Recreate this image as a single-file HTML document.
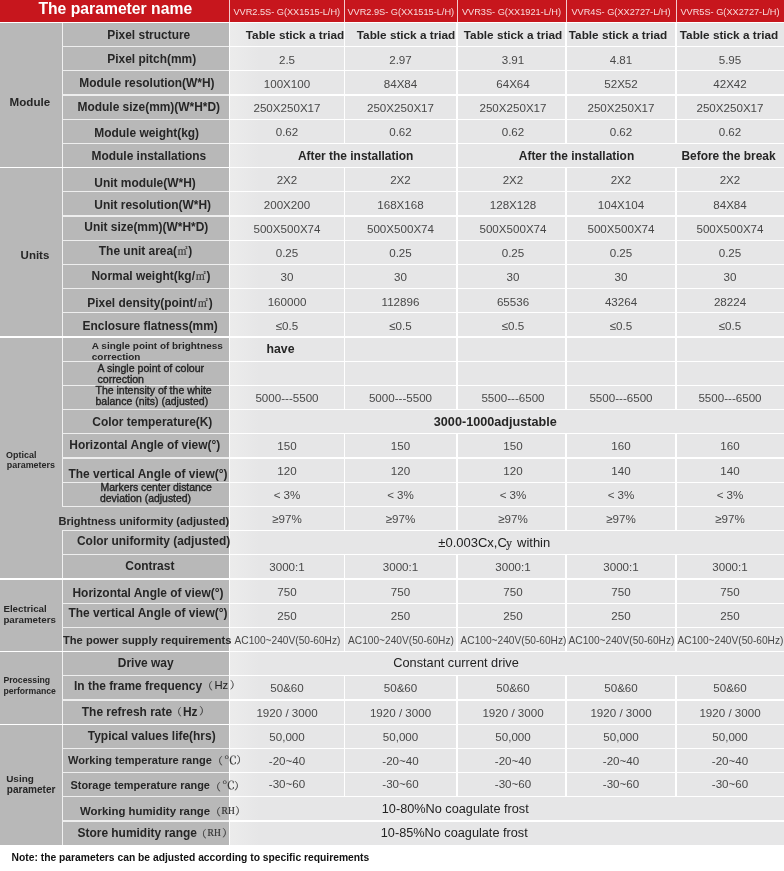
<!DOCTYPE html>
<html><head><meta charset="utf-8"><title>Parameters</title><style>
html,body{margin:0;padding:0;background:#fff}
#p{position:relative;width:784px;height:871px;overflow:hidden;background:#fff;font-family:"Liberation Sans",sans-serif}
#p div{position:absolute}
#p span{position:absolute;white-space:nowrap;line-height:1;color:#262626}
.b{font-weight:bold}
.r{font-weight:normal}
.c{width:300px;text-align:center}
#p .w{color:#fff}
#p .h{color:#f8dcdc}
#p .d{color:#484848}
#p .k{color:#222}
#p .k2{color:#222;-webkit-text-stroke:0.35px #222}
#p .n{color:#111}
#p .s{font-family:"Liberation Serif","Noto Serif CJK SC",serif;font-weight:normal;color:#333;-webkit-text-stroke:0.2px #333}
</style></head><body><div id="p">
<div style="left:0.00px;top:0.00px;width:784.00px;height:22.00px;background:#c7161d;"></div>
<div style="left:0.00px;top:22.00px;width:229.00px;height:823.00px;background:#b8b8b8;"></div>
<div style="left:229.00px;top:22.00px;width:555.00px;height:823.00px;background:linear-gradient(90deg,#ececec 0,#e6e6e7 30px);"></div>
<div style="left:228.60px;top:22.00px;width:1.20px;height:823.00px;background:#fff;"></div>
<div style="left:61.80px;top:22.00px;width:1.30px;height:823.00px;background:#f0f0f0;"></div>
<div style="left:228.50px;top:0.00px;width:1.00px;height:22.00px;background:#f3c9cb;"></div>
<div style="left:344.00px;top:0.00px;width:1.00px;height:22.00px;background:#f3c9cb;"></div>
<div style="left:456.50px;top:0.00px;width:1.00px;height:22.00px;background:#f3c9cb;"></div>
<div style="left:565.50px;top:0.00px;width:1.00px;height:22.00px;background:#f3c9cb;"></div>
<div style="left:675.50px;top:0.00px;width:1.00px;height:22.00px;background:#f3c9cb;"></div>
<div style="left:0.00px;top:21.70px;width:784.00px;height:1.40px;background:#fff;"></div>
<div style="left:62.00px;top:45.90px;width:167.00px;height:1.40px;background:#eee;"></div>
<div style="left:229.00px;top:45.90px;width:555.00px;height:1.40px;background:#fff;"></div>
<div style="left:62.00px;top:70.10px;width:167.00px;height:1.40px;background:#eee;"></div>
<div style="left:229.00px;top:70.10px;width:555.00px;height:1.40px;background:#fff;"></div>
<div style="left:62.00px;top:94.30px;width:167.00px;height:1.40px;background:#eee;"></div>
<div style="left:229.00px;top:94.30px;width:555.00px;height:1.40px;background:#fff;"></div>
<div style="left:62.00px;top:118.50px;width:167.00px;height:1.40px;background:#eee;"></div>
<div style="left:229.00px;top:118.50px;width:555.00px;height:1.40px;background:#fff;"></div>
<div style="left:62.00px;top:142.70px;width:167.00px;height:1.40px;background:#eee;"></div>
<div style="left:229.00px;top:142.70px;width:555.00px;height:1.40px;background:#fff;"></div>
<div style="left:0.00px;top:166.90px;width:784.00px;height:1.40px;background:#fff;"></div>
<div style="left:62.00px;top:191.10px;width:167.00px;height:1.40px;background:#eee;"></div>
<div style="left:229.00px;top:191.10px;width:555.00px;height:1.40px;background:#fff;"></div>
<div style="left:62.00px;top:215.30px;width:167.00px;height:1.40px;background:#eee;"></div>
<div style="left:229.00px;top:215.30px;width:555.00px;height:1.40px;background:#fff;"></div>
<div style="left:62.00px;top:239.50px;width:167.00px;height:1.40px;background:#eee;"></div>
<div style="left:229.00px;top:239.50px;width:555.00px;height:1.40px;background:#fff;"></div>
<div style="left:62.00px;top:263.70px;width:167.00px;height:1.40px;background:#eee;"></div>
<div style="left:229.00px;top:263.70px;width:555.00px;height:1.40px;background:#fff;"></div>
<div style="left:62.00px;top:287.90px;width:167.00px;height:1.40px;background:#eee;"></div>
<div style="left:229.00px;top:287.90px;width:555.00px;height:1.40px;background:#fff;"></div>
<div style="left:62.00px;top:312.10px;width:167.00px;height:1.40px;background:#eee;"></div>
<div style="left:229.00px;top:312.10px;width:555.00px;height:1.40px;background:#fff;"></div>
<div style="left:0.00px;top:336.30px;width:784.00px;height:1.40px;background:#fff;"></div>
<div style="left:62.00px;top:360.50px;width:167.00px;height:1.40px;background:#eee;"></div>
<div style="left:229.00px;top:360.50px;width:555.00px;height:1.40px;background:#fff;"></div>
<div style="left:62.00px;top:384.70px;width:167.00px;height:1.40px;background:#eee;"></div>
<div style="left:229.00px;top:384.70px;width:555.00px;height:1.40px;background:#fff;"></div>
<div style="left:62.00px;top:408.90px;width:167.00px;height:1.40px;background:#eee;"></div>
<div style="left:229.00px;top:408.90px;width:555.00px;height:1.40px;background:#fff;"></div>
<div style="left:62.00px;top:433.10px;width:167.00px;height:1.40px;background:#eee;"></div>
<div style="left:229.00px;top:433.10px;width:555.00px;height:1.40px;background:#fff;"></div>
<div style="left:62.00px;top:457.30px;width:167.00px;height:1.40px;background:#eee;"></div>
<div style="left:229.00px;top:457.30px;width:555.00px;height:1.40px;background:#fff;"></div>
<div style="left:62.00px;top:481.50px;width:167.00px;height:1.40px;background:#eee;"></div>
<div style="left:229.00px;top:481.50px;width:555.00px;height:1.40px;background:#fff;"></div>
<div style="left:62.00px;top:505.70px;width:167.00px;height:1.40px;background:#eee;"></div>
<div style="left:229.00px;top:505.70px;width:555.00px;height:1.40px;background:#fff;"></div>
<div style="left:62.00px;top:529.90px;width:167.00px;height:1.40px;background:#eee;"></div>
<div style="left:229.00px;top:529.90px;width:555.00px;height:1.40px;background:#fff;"></div>
<div style="left:62.00px;top:554.10px;width:167.00px;height:1.40px;background:#eee;"></div>
<div style="left:229.00px;top:554.10px;width:555.00px;height:1.40px;background:#fff;"></div>
<div style="left:0.00px;top:578.30px;width:784.00px;height:1.40px;background:#fff;"></div>
<div style="left:62.00px;top:602.50px;width:167.00px;height:1.40px;background:#eee;"></div>
<div style="left:229.00px;top:602.50px;width:555.00px;height:1.40px;background:#fff;"></div>
<div style="left:62.00px;top:626.70px;width:167.00px;height:1.40px;background:#eee;"></div>
<div style="left:229.00px;top:626.70px;width:555.00px;height:1.40px;background:#fff;"></div>
<div style="left:0.00px;top:650.90px;width:784.00px;height:1.40px;background:#fff;"></div>
<div style="left:62.00px;top:675.10px;width:167.00px;height:1.40px;background:#eee;"></div>
<div style="left:229.00px;top:675.10px;width:555.00px;height:1.40px;background:#fff;"></div>
<div style="left:62.00px;top:699.30px;width:167.00px;height:1.40px;background:#eee;"></div>
<div style="left:229.00px;top:699.30px;width:555.00px;height:1.40px;background:#fff;"></div>
<div style="left:0.00px;top:723.50px;width:784.00px;height:1.40px;background:#fff;"></div>
<div style="left:62.00px;top:747.70px;width:167.00px;height:1.40px;background:#eee;"></div>
<div style="left:229.00px;top:747.70px;width:555.00px;height:1.40px;background:#fff;"></div>
<div style="left:62.00px;top:771.90px;width:167.00px;height:1.40px;background:#eee;"></div>
<div style="left:229.00px;top:771.90px;width:555.00px;height:1.40px;background:#fff;"></div>
<div style="left:62.00px;top:796.10px;width:167.00px;height:1.40px;background:#eee;"></div>
<div style="left:229.00px;top:796.10px;width:555.00px;height:1.40px;background:#fff;"></div>
<div style="left:62.00px;top:820.30px;width:167.00px;height:1.40px;background:#eee;"></div>
<div style="left:229.00px;top:820.30px;width:555.00px;height:1.40px;background:#fff;"></div>
<div style="left:0.00px;top:844.50px;width:784.00px;height:1.40px;background:#fff;"></div>
<div style="left:343.90px;top:22.40px;width:1.20px;height:24.20px;background:#fff;"></div>
<div style="left:456.40px;top:22.40px;width:1.20px;height:24.20px;background:#fff;"></div>
<div style="left:565.40px;top:22.40px;width:1.20px;height:24.20px;background:#fff;"></div>
<div style="left:675.40px;top:22.40px;width:1.20px;height:24.20px;background:#fff;"></div>
<div style="left:343.90px;top:46.60px;width:1.20px;height:24.20px;background:#fff;"></div>
<div style="left:456.40px;top:46.60px;width:1.20px;height:24.20px;background:#fff;"></div>
<div style="left:565.40px;top:46.60px;width:1.20px;height:24.20px;background:#fff;"></div>
<div style="left:675.40px;top:46.60px;width:1.20px;height:24.20px;background:#fff;"></div>
<div style="left:343.90px;top:70.80px;width:1.20px;height:24.20px;background:#fff;"></div>
<div style="left:456.40px;top:70.80px;width:1.20px;height:24.20px;background:#fff;"></div>
<div style="left:565.40px;top:70.80px;width:1.20px;height:24.20px;background:#fff;"></div>
<div style="left:675.40px;top:70.80px;width:1.20px;height:24.20px;background:#fff;"></div>
<div style="left:343.90px;top:95.00px;width:1.20px;height:24.20px;background:#fff;"></div>
<div style="left:456.40px;top:95.00px;width:1.20px;height:24.20px;background:#fff;"></div>
<div style="left:565.40px;top:95.00px;width:1.20px;height:24.20px;background:#fff;"></div>
<div style="left:675.40px;top:95.00px;width:1.20px;height:24.20px;background:#fff;"></div>
<div style="left:343.90px;top:119.20px;width:1.20px;height:24.20px;background:#fff;"></div>
<div style="left:456.40px;top:119.20px;width:1.20px;height:24.20px;background:#fff;"></div>
<div style="left:565.40px;top:119.20px;width:1.20px;height:24.20px;background:#fff;"></div>
<div style="left:675.40px;top:119.20px;width:1.20px;height:24.20px;background:#fff;"></div>
<div style="left:456.40px;top:143.40px;width:1.20px;height:24.20px;background:#fff;"></div>
<div style="left:343.90px;top:167.60px;width:1.20px;height:24.20px;background:#fff;"></div>
<div style="left:456.40px;top:167.60px;width:1.20px;height:24.20px;background:#fff;"></div>
<div style="left:565.40px;top:167.60px;width:1.20px;height:24.20px;background:#fff;"></div>
<div style="left:675.40px;top:167.60px;width:1.20px;height:24.20px;background:#fff;"></div>
<div style="left:343.90px;top:191.80px;width:1.20px;height:24.20px;background:#fff;"></div>
<div style="left:456.40px;top:191.80px;width:1.20px;height:24.20px;background:#fff;"></div>
<div style="left:565.40px;top:191.80px;width:1.20px;height:24.20px;background:#fff;"></div>
<div style="left:675.40px;top:191.80px;width:1.20px;height:24.20px;background:#fff;"></div>
<div style="left:343.90px;top:216.00px;width:1.20px;height:24.20px;background:#fff;"></div>
<div style="left:456.40px;top:216.00px;width:1.20px;height:24.20px;background:#fff;"></div>
<div style="left:565.40px;top:216.00px;width:1.20px;height:24.20px;background:#fff;"></div>
<div style="left:675.40px;top:216.00px;width:1.20px;height:24.20px;background:#fff;"></div>
<div style="left:343.90px;top:240.20px;width:1.20px;height:24.20px;background:#fff;"></div>
<div style="left:456.40px;top:240.20px;width:1.20px;height:24.20px;background:#fff;"></div>
<div style="left:565.40px;top:240.20px;width:1.20px;height:24.20px;background:#fff;"></div>
<div style="left:675.40px;top:240.20px;width:1.20px;height:24.20px;background:#fff;"></div>
<div style="left:343.90px;top:264.40px;width:1.20px;height:24.20px;background:#fff;"></div>
<div style="left:456.40px;top:264.40px;width:1.20px;height:24.20px;background:#fff;"></div>
<div style="left:565.40px;top:264.40px;width:1.20px;height:24.20px;background:#fff;"></div>
<div style="left:675.40px;top:264.40px;width:1.20px;height:24.20px;background:#fff;"></div>
<div style="left:343.90px;top:288.60px;width:1.20px;height:24.20px;background:#fff;"></div>
<div style="left:456.40px;top:288.60px;width:1.20px;height:24.20px;background:#fff;"></div>
<div style="left:565.40px;top:288.60px;width:1.20px;height:24.20px;background:#fff;"></div>
<div style="left:675.40px;top:288.60px;width:1.20px;height:24.20px;background:#fff;"></div>
<div style="left:343.90px;top:312.80px;width:1.20px;height:24.20px;background:#fff;"></div>
<div style="left:456.40px;top:312.80px;width:1.20px;height:24.20px;background:#fff;"></div>
<div style="left:565.40px;top:312.80px;width:1.20px;height:24.20px;background:#fff;"></div>
<div style="left:675.40px;top:312.80px;width:1.20px;height:24.20px;background:#fff;"></div>
<div style="left:343.90px;top:337.00px;width:1.20px;height:24.20px;background:#fff;"></div>
<div style="left:456.40px;top:337.00px;width:1.20px;height:24.20px;background:#fff;"></div>
<div style="left:565.40px;top:337.00px;width:1.20px;height:24.20px;background:#fff;"></div>
<div style="left:675.40px;top:337.00px;width:1.20px;height:24.20px;background:#fff;"></div>
<div style="left:343.90px;top:361.20px;width:1.20px;height:24.20px;background:#fff;"></div>
<div style="left:456.40px;top:361.20px;width:1.20px;height:24.20px;background:#fff;"></div>
<div style="left:565.40px;top:361.20px;width:1.20px;height:24.20px;background:#fff;"></div>
<div style="left:675.40px;top:361.20px;width:1.20px;height:24.20px;background:#fff;"></div>
<div style="left:343.90px;top:385.40px;width:1.20px;height:24.20px;background:#fff;"></div>
<div style="left:456.40px;top:385.40px;width:1.20px;height:24.20px;background:#fff;"></div>
<div style="left:565.40px;top:385.40px;width:1.20px;height:24.20px;background:#fff;"></div>
<div style="left:675.40px;top:385.40px;width:1.20px;height:24.20px;background:#fff;"></div>
<div style="left:343.90px;top:433.80px;width:1.20px;height:24.20px;background:#fff;"></div>
<div style="left:456.40px;top:433.80px;width:1.20px;height:24.20px;background:#fff;"></div>
<div style="left:565.40px;top:433.80px;width:1.20px;height:24.20px;background:#fff;"></div>
<div style="left:675.40px;top:433.80px;width:1.20px;height:24.20px;background:#fff;"></div>
<div style="left:343.90px;top:458.00px;width:1.20px;height:24.20px;background:#fff;"></div>
<div style="left:456.40px;top:458.00px;width:1.20px;height:24.20px;background:#fff;"></div>
<div style="left:565.40px;top:458.00px;width:1.20px;height:24.20px;background:#fff;"></div>
<div style="left:675.40px;top:458.00px;width:1.20px;height:24.20px;background:#fff;"></div>
<div style="left:343.90px;top:482.20px;width:1.20px;height:24.20px;background:#fff;"></div>
<div style="left:456.40px;top:482.20px;width:1.20px;height:24.20px;background:#fff;"></div>
<div style="left:565.40px;top:482.20px;width:1.20px;height:24.20px;background:#fff;"></div>
<div style="left:675.40px;top:482.20px;width:1.20px;height:24.20px;background:#fff;"></div>
<div style="left:343.90px;top:506.40px;width:1.20px;height:24.20px;background:#fff;"></div>
<div style="left:456.40px;top:506.40px;width:1.20px;height:24.20px;background:#fff;"></div>
<div style="left:565.40px;top:506.40px;width:1.20px;height:24.20px;background:#fff;"></div>
<div style="left:675.40px;top:506.40px;width:1.20px;height:24.20px;background:#fff;"></div>
<div style="left:343.90px;top:554.80px;width:1.20px;height:24.20px;background:#fff;"></div>
<div style="left:456.40px;top:554.80px;width:1.20px;height:24.20px;background:#fff;"></div>
<div style="left:565.40px;top:554.80px;width:1.20px;height:24.20px;background:#fff;"></div>
<div style="left:675.40px;top:554.80px;width:1.20px;height:24.20px;background:#fff;"></div>
<div style="left:343.90px;top:579.00px;width:1.20px;height:24.20px;background:#fff;"></div>
<div style="left:456.40px;top:579.00px;width:1.20px;height:24.20px;background:#fff;"></div>
<div style="left:565.40px;top:579.00px;width:1.20px;height:24.20px;background:#fff;"></div>
<div style="left:675.40px;top:579.00px;width:1.20px;height:24.20px;background:#fff;"></div>
<div style="left:343.90px;top:603.20px;width:1.20px;height:24.20px;background:#fff;"></div>
<div style="left:456.40px;top:603.20px;width:1.20px;height:24.20px;background:#fff;"></div>
<div style="left:565.40px;top:603.20px;width:1.20px;height:24.20px;background:#fff;"></div>
<div style="left:675.40px;top:603.20px;width:1.20px;height:24.20px;background:#fff;"></div>
<div style="left:343.90px;top:627.40px;width:1.20px;height:24.20px;background:#fff;"></div>
<div style="left:456.40px;top:627.40px;width:1.20px;height:24.20px;background:#fff;"></div>
<div style="left:565.40px;top:627.40px;width:1.20px;height:24.20px;background:#fff;"></div>
<div style="left:675.40px;top:627.40px;width:1.20px;height:24.20px;background:#fff;"></div>
<div style="left:343.90px;top:675.80px;width:1.20px;height:24.20px;background:#fff;"></div>
<div style="left:456.40px;top:675.80px;width:1.20px;height:24.20px;background:#fff;"></div>
<div style="left:565.40px;top:675.80px;width:1.20px;height:24.20px;background:#fff;"></div>
<div style="left:675.40px;top:675.80px;width:1.20px;height:24.20px;background:#fff;"></div>
<div style="left:343.90px;top:700.00px;width:1.20px;height:24.20px;background:#fff;"></div>
<div style="left:456.40px;top:700.00px;width:1.20px;height:24.20px;background:#fff;"></div>
<div style="left:565.40px;top:700.00px;width:1.20px;height:24.20px;background:#fff;"></div>
<div style="left:675.40px;top:700.00px;width:1.20px;height:24.20px;background:#fff;"></div>
<div style="left:343.90px;top:724.20px;width:1.20px;height:24.20px;background:#fff;"></div>
<div style="left:456.40px;top:724.20px;width:1.20px;height:24.20px;background:#fff;"></div>
<div style="left:565.40px;top:724.20px;width:1.20px;height:24.20px;background:#fff;"></div>
<div style="left:675.40px;top:724.20px;width:1.20px;height:24.20px;background:#fff;"></div>
<div style="left:343.90px;top:748.40px;width:1.20px;height:24.20px;background:#fff;"></div>
<div style="left:456.40px;top:748.40px;width:1.20px;height:24.20px;background:#fff;"></div>
<div style="left:565.40px;top:748.40px;width:1.20px;height:24.20px;background:#fff;"></div>
<div style="left:675.40px;top:748.40px;width:1.20px;height:24.20px;background:#fff;"></div>
<div style="left:343.90px;top:772.60px;width:1.20px;height:24.20px;background:#fff;"></div>
<div style="left:456.40px;top:772.60px;width:1.20px;height:24.20px;background:#fff;"></div>
<div style="left:565.40px;top:772.60px;width:1.20px;height:24.20px;background:#fff;"></div>
<div style="left:675.40px;top:772.60px;width:1.20px;height:24.20px;background:#fff;"></div>
<div style="left:61.00px;top:507.10px;width:3.00px;height:22.80px;background:#b8b8b8;"></div>
<span class="b w" style="left:38.40px;top:1px;font-size:15.72px;">The parameter name</span>
<span class="r h c" style="left:136.75px;top:8px;font-size:9.2px;">VVR2.5S- G(XX1515-L/H)</span>
<span class="r h c" style="left:250.75px;top:8px;font-size:9.2px;">VVR2.9S- G(XX1515-L/H)</span>
<span class="r h c" style="left:361.50px;top:8px;font-size:9.2px;">VVR3S- G(XX1921-L/H)</span>
<span class="r h c" style="left:471.00px;top:8px;font-size:9.2px;">VVR4S- G(XX2727-L/H)</span>
<span class="r h c" style="left:580.00px;top:8px;font-size:9.2px;">VVR5S- G(XX2727-L/H)</span>
<span class="b" style="left:9.60px;top:96px;font-size:11.6px;">Module</span>
<span class="b" style="left:20.60px;top:250px;font-size:11.5px;">Units</span>
<span class="b" style="left:6.10px;top:451px;font-size:8.95px;">Optical</span>
<span class="b" style="left:6.80px;top:461px;font-size:8.95px;">parameters</span>
<span class="b" style="left:3.40px;top:604px;font-size:9.74px;">Electrical</span>
<span class="b" style="left:3.40px;top:615px;font-size:9.74px;">parameters</span>
<span class="b" style="left:3.40px;top:676px;font-size:8.68px;">Processing</span>
<span class="b" style="left:3.40px;top:687px;font-size:8.68px;">performance</span>
<span class="b" style="left:6.20px;top:774px;font-size:9.95px;">Using</span>
<span class="b" style="left:6.80px;top:785px;font-size:10.05px;">parameter</span>
<span class="b" style="left:107.30px;top:30px;font-size:11.95px;">Pixel structure</span>
<span class="b" style="left:107.30px;top:54px;font-size:11.95px;">Pixel pitch(mm)</span>
<span class="b" style="left:79.30px;top:78px;font-size:11.95px;">Module resolution(W*H)</span>
<span class="b" style="left:77.50px;top:102px;font-size:11.95px;">Module size(mm)(W*H*D)</span>
<span class="b" style="left:94.30px;top:128px;font-size:11.95px;">Module weight(kg)</span>
<span class="b" style="left:91.50px;top:151px;font-size:11.95px;">Module installations</span>
<span class="b" style="left:94.30px;top:178px;font-size:11.95px;">Unit module(W*H)</span>
<span class="b" style="left:94.30px;top:200px;font-size:11.95px;">Unit resolution(W*H)</span>
<span class="b" style="left:84.30px;top:222px;font-size:11.95px;">Unit size(mm)(W*H*D)</span>
<span class="b" style="left:82.50px;top:321px;font-size:11.95px;">Enclosure flatness(mm)</span>
<span class="b" style="left:92.30px;top:417px;font-size:11.95px;">Color temperature(K)</span>
<span class="b" style="left:69.30px;top:440px;font-size:11.95px;">Horizontal Angle of view(°)</span>
<span class="b" style="left:68.50px;top:469px;font-size:11.95px;">The vertical Angle of view(°)</span>
<span class="b" style="left:58.50px;top:516px;font-size:11.06px;">Brightness uniformity (adjusted)</span>
<span class="b" style="left:77.00px;top:536px;font-size:11.95px;">Color uniformity (adjusted)</span>
<span class="b" style="left:125.30px;top:561px;font-size:11.95px;">Contrast</span>
<span class="b" style="left:72.50px;top:588px;font-size:11.95px;">Horizontal Angle of view(°)</span>
<span class="b" style="left:68.50px;top:608px;font-size:11.95px;">The vertical Angle of view(°)</span>
<span class="b" style="left:63.00px;top:635px;font-size:11.15px;">The power supply requirements</span>
<span class="b" style="left:117.80px;top:658px;font-size:11.95px;">Drive way</span>
<span class="b" style="left:87.80px;top:731px;font-size:11.95px;">Typical values life(hrs)</span>
<span class="b" style="left:98.80px;top:246px;font-size:11.95px;">The unit area(</span>
<span class="s" style="left:177.40px;top:247px;font-size:10px;">㎡</span>
<span class="b" style="left:188.30px;top:246px;font-size:11.95px;">)</span>
<span class="b" style="left:91.50px;top:271px;font-size:11.95px;">Normal weight(kg/</span>
<span class="s" style="left:195.70px;top:272px;font-size:10px;">㎡</span>
<span class="b" style="left:206.40px;top:271px;font-size:11.95px;">)</span>
<span class="b" style="left:87.30px;top:298px;font-size:11.95px;">Pixel density(point/</span>
<span class="s" style="left:197.70px;top:299px;font-size:10px;">㎡</span>
<span class="b" style="left:208.70px;top:298px;font-size:11.95px;">)</span>
<span class="b" style="left:74.00px;top:681px;font-size:11.95px;">In the frame frequency</span>
<span class="s" style="left:202.80px;top:682px;font-size:10px;">（</span>
<span class="r k" style="left:214.40px;top:680px;font-size:11.3px;">Hz</span>
<span class="s" style="left:230.00px;top:681px;font-size:10px;">）</span>
<span class="b" style="left:81.80px;top:707px;font-size:11.95px;">The refresh rate</span>
<span class="s" style="left:171.80px;top:708px;font-size:10px;">（</span>
<span class="b" style="left:183.00px;top:707px;font-size:11.95px;">Hz</span>
<span class="s" style="left:199.20px;top:707px;font-size:10px;">）</span>
<span class="b" style="left:68.00px;top:755px;font-size:11.04px;">Working temperature range</span>
<span class="s" style="left:212.70px;top:757px;font-size:10px;">（</span>
<span class="s" style="left:224.10px;top:754px;font-size:12px;transform:scale(1.08,.88);transform-origin:0 50%;">℃</span>
<span class="s" style="left:236.50px;top:756px;font-size:10px;">）</span>
<span class="b" style="left:70.50px;top:780px;font-size:10.91px;">Storage temperature range</span>
<span class="s" style="left:210.70px;top:783px;font-size:10px;">（</span>
<span class="s" style="left:221.90px;top:779px;font-size:12px;transform:scale(1.08,.88);transform-origin:0 50%;">℃</span>
<span class="s" style="left:234.30px;top:782px;font-size:10px;">）</span>
<span class="b" style="left:80.00px;top:806px;font-size:11.4px;">Working humidity range</span>
<span class="s" style="left:210.80px;top:808px;font-size:10px;">（</span>
<span class="s" style="left:221.60px;top:807px;font-size:9.5px;">RH</span>
<span class="s" style="left:235.20px;top:807px;font-size:10px;">）</span>
<span class="b" style="left:77.50px;top:828px;font-size:11.95px;">Store humidity range</span>
<span class="s" style="left:196.40px;top:830px;font-size:10px;">（</span>
<span class="s" style="left:207.60px;top:829px;font-size:9.5px;">RH</span>
<span class="s" style="left:222.20px;top:829px;font-size:10px;">）</span>
<span class="b" style="left:91.80px;top:341px;font-size:9.95px;">A single point of brightness</span>
<span class="b" style="left:91.80px;top:352px;font-size:9.95px;">correction</span>
<span class="r k2" style="left:97.50px;top:363px;font-size:10.6px;">A single point of colour</span>
<span class="r k2" style="left:97.50px;top:374px;font-size:10.6px;">correction</span>
<span class="r k2" style="left:95.50px;top:385px;font-size:10.5px;">The intensity of the white</span>
<span class="r k2" style="left:95.50px;top:396px;font-size:10.5px;">balance (nits) (adjusted)</span>
<span class="r k2" style="left:100.50px;top:483px;font-size:10.45px;">Markers center distance</span>
<span class="r k2" style="left:100.00px;top:494px;font-size:10.45px;">deviation (adjusted)</span>
<span class="r d c" style="left:137.00px;top:54px;font-size:11.6px;">2.5</span>
<span class="r d c" style="left:250.50px;top:54px;font-size:11.6px;">2.97</span>
<span class="r d c" style="left:363.00px;top:54px;font-size:11.6px;">3.91</span>
<span class="r d c" style="left:471.00px;top:54px;font-size:11.6px;">4.81</span>
<span class="r d c" style="left:580.00px;top:54px;font-size:11.6px;">5.95</span>
<span class="r d c" style="left:137.00px;top:78px;font-size:11.6px;">100X100</span>
<span class="r d c" style="left:250.50px;top:78px;font-size:11.6px;">84X84</span>
<span class="r d c" style="left:363.00px;top:78px;font-size:11.6px;">64X64</span>
<span class="r d c" style="left:471.00px;top:78px;font-size:11.6px;">52X52</span>
<span class="r d c" style="left:580.00px;top:78px;font-size:11.6px;">42X42</span>
<span class="r d c" style="left:137.00px;top:102px;font-size:11.6px;">250X250X17</span>
<span class="r d c" style="left:250.50px;top:102px;font-size:11.6px;">250X250X17</span>
<span class="r d c" style="left:363.00px;top:102px;font-size:11.6px;">250X250X17</span>
<span class="r d c" style="left:471.00px;top:102px;font-size:11.6px;">250X250X17</span>
<span class="r d c" style="left:580.00px;top:102px;font-size:11.6px;">250X250X17</span>
<span class="r d c" style="left:137.00px;top:126px;font-size:11.6px;">0.62</span>
<span class="r d c" style="left:250.50px;top:126px;font-size:11.6px;">0.62</span>
<span class="r d c" style="left:363.00px;top:126px;font-size:11.6px;">0.62</span>
<span class="r d c" style="left:471.00px;top:126px;font-size:11.6px;">0.62</span>
<span class="r d c" style="left:580.00px;top:126px;font-size:11.6px;">0.62</span>
<span class="r d c" style="left:137.00px;top:174px;font-size:11.6px;">2X2</span>
<span class="r d c" style="left:250.50px;top:174px;font-size:11.6px;">2X2</span>
<span class="r d c" style="left:363.00px;top:174px;font-size:11.6px;">2X2</span>
<span class="r d c" style="left:471.00px;top:174px;font-size:11.6px;">2X2</span>
<span class="r d c" style="left:580.00px;top:174px;font-size:11.6px;">2X2</span>
<span class="r d c" style="left:137.00px;top:199px;font-size:11.6px;">200X200</span>
<span class="r d c" style="left:250.50px;top:199px;font-size:11.6px;">168X168</span>
<span class="r d c" style="left:363.00px;top:199px;font-size:11.6px;">128X128</span>
<span class="r d c" style="left:471.00px;top:199px;font-size:11.6px;">104X104</span>
<span class="r d c" style="left:580.00px;top:199px;font-size:11.6px;">84X84</span>
<span class="r d c" style="left:137.00px;top:223px;font-size:11.6px;">500X500X74</span>
<span class="r d c" style="left:250.50px;top:223px;font-size:11.6px;">500X500X74</span>
<span class="r d c" style="left:363.00px;top:223px;font-size:11.6px;">500X500X74</span>
<span class="r d c" style="left:471.00px;top:223px;font-size:11.6px;">500X500X74</span>
<span class="r d c" style="left:580.00px;top:223px;font-size:11.6px;">500X500X74</span>
<span class="r d c" style="left:137.00px;top:247px;font-size:11.6px;">0.25</span>
<span class="r d c" style="left:250.50px;top:247px;font-size:11.6px;">0.25</span>
<span class="r d c" style="left:363.00px;top:247px;font-size:11.6px;">0.25</span>
<span class="r d c" style="left:471.00px;top:247px;font-size:11.6px;">0.25</span>
<span class="r d c" style="left:580.00px;top:247px;font-size:11.6px;">0.25</span>
<span class="r d c" style="left:137.00px;top:271px;font-size:11.6px;">30</span>
<span class="r d c" style="left:250.50px;top:271px;font-size:11.6px;">30</span>
<span class="r d c" style="left:363.00px;top:271px;font-size:11.6px;">30</span>
<span class="r d c" style="left:471.00px;top:271px;font-size:11.6px;">30</span>
<span class="r d c" style="left:580.00px;top:271px;font-size:11.6px;">30</span>
<span class="r d c" style="left:137.00px;top:296px;font-size:11.6px;">160000</span>
<span class="r d c" style="left:250.50px;top:296px;font-size:11.6px;">112896</span>
<span class="r d c" style="left:363.00px;top:296px;font-size:11.6px;">65536</span>
<span class="r d c" style="left:471.00px;top:296px;font-size:11.6px;">43264</span>
<span class="r d c" style="left:580.00px;top:296px;font-size:11.6px;">28224</span>
<span class="r d c" style="left:137.00px;top:320px;font-size:11.6px;">≤0.5</span>
<span class="r d c" style="left:250.50px;top:320px;font-size:11.6px;">≤0.5</span>
<span class="r d c" style="left:363.00px;top:320px;font-size:11.6px;">≤0.5</span>
<span class="r d c" style="left:471.00px;top:320px;font-size:11.6px;">≤0.5</span>
<span class="r d c" style="left:580.00px;top:320px;font-size:11.6px;">≤0.5</span>
<span class="r d c" style="left:137.00px;top:392px;font-size:11.6px;">5000---5500</span>
<span class="r d c" style="left:250.50px;top:392px;font-size:11.6px;">5000---5500</span>
<span class="r d c" style="left:363.00px;top:392px;font-size:11.6px;">5500---6500</span>
<span class="r d c" style="left:471.00px;top:392px;font-size:11.6px;">5500---6500</span>
<span class="r d c" style="left:580.00px;top:392px;font-size:11.6px;">5500---6500</span>
<span class="r d c" style="left:137.00px;top:440px;font-size:11.6px;">150</span>
<span class="r d c" style="left:250.50px;top:440px;font-size:11.6px;">150</span>
<span class="r d c" style="left:363.00px;top:440px;font-size:11.6px;">150</span>
<span class="r d c" style="left:471.00px;top:440px;font-size:11.6px;">160</span>
<span class="r d c" style="left:580.00px;top:440px;font-size:11.6px;">160</span>
<span class="r d c" style="left:137.00px;top:465px;font-size:11.6px;">120</span>
<span class="r d c" style="left:250.50px;top:465px;font-size:11.6px;">120</span>
<span class="r d c" style="left:363.00px;top:465px;font-size:11.6px;">120</span>
<span class="r d c" style="left:471.00px;top:465px;font-size:11.6px;">140</span>
<span class="r d c" style="left:580.00px;top:465px;font-size:11.6px;">140</span>
<span class="r d c" style="left:137.00px;top:489px;font-size:11.6px;">&lt; 3%</span>
<span class="r d c" style="left:250.50px;top:489px;font-size:11.6px;">&lt; 3%</span>
<span class="r d c" style="left:363.00px;top:489px;font-size:11.6px;">&lt; 3%</span>
<span class="r d c" style="left:471.00px;top:489px;font-size:11.6px;">&lt; 3%</span>
<span class="r d c" style="left:580.00px;top:489px;font-size:11.6px;">&lt; 3%</span>
<span class="r d c" style="left:137.00px;top:513px;font-size:11.6px;">≥97%</span>
<span class="r d c" style="left:250.50px;top:513px;font-size:11.6px;">≥97%</span>
<span class="r d c" style="left:363.00px;top:513px;font-size:11.6px;">≥97%</span>
<span class="r d c" style="left:471.00px;top:513px;font-size:11.6px;">≥97%</span>
<span class="r d c" style="left:580.00px;top:513px;font-size:11.6px;">≥97%</span>
<span class="r d c" style="left:137.00px;top:561px;font-size:11.6px;">3000:1</span>
<span class="r d c" style="left:250.50px;top:561px;font-size:11.6px;">3000:1</span>
<span class="r d c" style="left:363.00px;top:561px;font-size:11.6px;">3000:1</span>
<span class="r d c" style="left:471.00px;top:561px;font-size:11.6px;">3000:1</span>
<span class="r d c" style="left:580.00px;top:561px;font-size:11.6px;">3000:1</span>
<span class="r d c" style="left:137.00px;top:586px;font-size:11.6px;">750</span>
<span class="r d c" style="left:250.50px;top:586px;font-size:11.6px;">750</span>
<span class="r d c" style="left:363.00px;top:586px;font-size:11.6px;">750</span>
<span class="r d c" style="left:471.00px;top:586px;font-size:11.6px;">750</span>
<span class="r d c" style="left:580.00px;top:586px;font-size:11.6px;">750</span>
<span class="r d c" style="left:137.00px;top:610px;font-size:11.6px;">250</span>
<span class="r d c" style="left:250.50px;top:610px;font-size:11.6px;">250</span>
<span class="r d c" style="left:363.00px;top:610px;font-size:11.6px;">250</span>
<span class="r d c" style="left:471.00px;top:610px;font-size:11.6px;">250</span>
<span class="r d c" style="left:580.00px;top:610px;font-size:11.6px;">250</span>
<span class="r d c" style="left:137.00px;top:682px;font-size:11.6px;">50&amp;60</span>
<span class="r d c" style="left:250.50px;top:682px;font-size:11.6px;">50&amp;60</span>
<span class="r d c" style="left:363.00px;top:682px;font-size:11.6px;">50&amp;60</span>
<span class="r d c" style="left:471.00px;top:682px;font-size:11.6px;">50&amp;60</span>
<span class="r d c" style="left:580.00px;top:682px;font-size:11.6px;">50&amp;60</span>
<span class="r d c" style="left:137.00px;top:707px;font-size:11.6px;">1920 / 3000</span>
<span class="r d c" style="left:250.50px;top:707px;font-size:11.6px;">1920 / 3000</span>
<span class="r d c" style="left:363.00px;top:707px;font-size:11.6px;">1920 / 3000</span>
<span class="r d c" style="left:471.00px;top:707px;font-size:11.6px;">1920 / 3000</span>
<span class="r d c" style="left:580.00px;top:707px;font-size:11.6px;">1920 / 3000</span>
<span class="r d c" style="left:137.00px;top:731px;font-size:11.6px;">50,000</span>
<span class="r d c" style="left:250.50px;top:731px;font-size:11.6px;">50,000</span>
<span class="r d c" style="left:363.00px;top:731px;font-size:11.6px;">50,000</span>
<span class="r d c" style="left:471.00px;top:731px;font-size:11.6px;">50,000</span>
<span class="r d c" style="left:580.00px;top:731px;font-size:11.6px;">50,000</span>
<span class="r d c" style="left:137.00px;top:755px;font-size:11.6px;">-20~40</span>
<span class="r d c" style="left:250.50px;top:755px;font-size:11.6px;">-20~40</span>
<span class="r d c" style="left:363.00px;top:755px;font-size:11.6px;">-20~40</span>
<span class="r d c" style="left:471.00px;top:755px;font-size:11.6px;">-20~40</span>
<span class="r d c" style="left:580.00px;top:755px;font-size:11.6px;">-20~40</span>
<span class="r d c" style="left:137.00px;top:778px;font-size:11.6px;">-30~60</span>
<span class="r d c" style="left:250.50px;top:778px;font-size:11.6px;">-30~60</span>
<span class="r d c" style="left:363.00px;top:778px;font-size:11.6px;">-30~60</span>
<span class="r d c" style="left:471.00px;top:778px;font-size:11.6px;">-30~60</span>
<span class="r d c" style="left:580.00px;top:778px;font-size:11.6px;">-30~60</span>
<span class="r d c" style="left:137.50px;top:636px;font-size:10.17px;">AC100~240V(50-60Hz)</span>
<span class="r d c" style="left:251.00px;top:636px;font-size:10.17px;">AC100~240V(50-60Hz)</span>
<span class="r d c" style="left:363.50px;top:636px;font-size:10.17px;">AC100~240V(50-60Hz)</span>
<span class="r d c" style="left:471.50px;top:636px;font-size:10.17px;">AC100~240V(50-60Hz)</span>
<span class="r d c" style="left:580.50px;top:636px;font-size:10.17px;">AC100~240V(50-60Hz)</span>
<span class="b c" style="left:145.00px;top:29px;font-size:11.76px;">Table stick a triad</span>
<span class="b c" style="left:256.00px;top:29px;font-size:11.76px;">Table stick a triad</span>
<span class="b c" style="left:363.00px;top:29px;font-size:11.76px;">Table stick a triad</span>
<span class="b c" style="left:468.00px;top:29px;font-size:11.76px;">Table stick a triad</span>
<span class="b c" style="left:579.00px;top:29px;font-size:11.76px;">Table stick a triad</span>
<span class="b c" style="left:205.60px;top:151px;font-size:11.95px;">After the installation</span>
<span class="b c" style="left:426.50px;top:151px;font-size:11.95px;">After the installation</span>
<span class="b c" style="left:578.50px;top:151px;font-size:11.95px;">Before the break</span>
<span class="b" style="left:266.50px;top:343px;font-size:12.29px;">have</span>
<span class="b" style="left:433.80px;top:416px;font-size:12.65px;">3000-1000adjustable</span>
<span class="r k" style="left:438.30px;top:536px;font-size:13px;">±0.003Cx,C</span>
<span class="s" style="left:506.00px;top:537px;font-size:12px;">y</span>
<span class="r k" style="left:517.00px;top:536px;font-size:13px;">within</span>
<span class="r k" style="left:393.30px;top:657px;font-size:12.75px;">Constant current drive</span>
<span class="r k" style="left:381.80px;top:803px;font-size:12.71px;">10-80%No coagulate frost</span>
<span class="r k" style="left:380.80px;top:827px;font-size:12.71px;">10-85%No coagulate frost</span>
<span class="b n" style="left:11.60px;top:853px;font-size:10.31px;">Note: the parameters can be adjusted according to specific requirements</span>
</div></body></html>
